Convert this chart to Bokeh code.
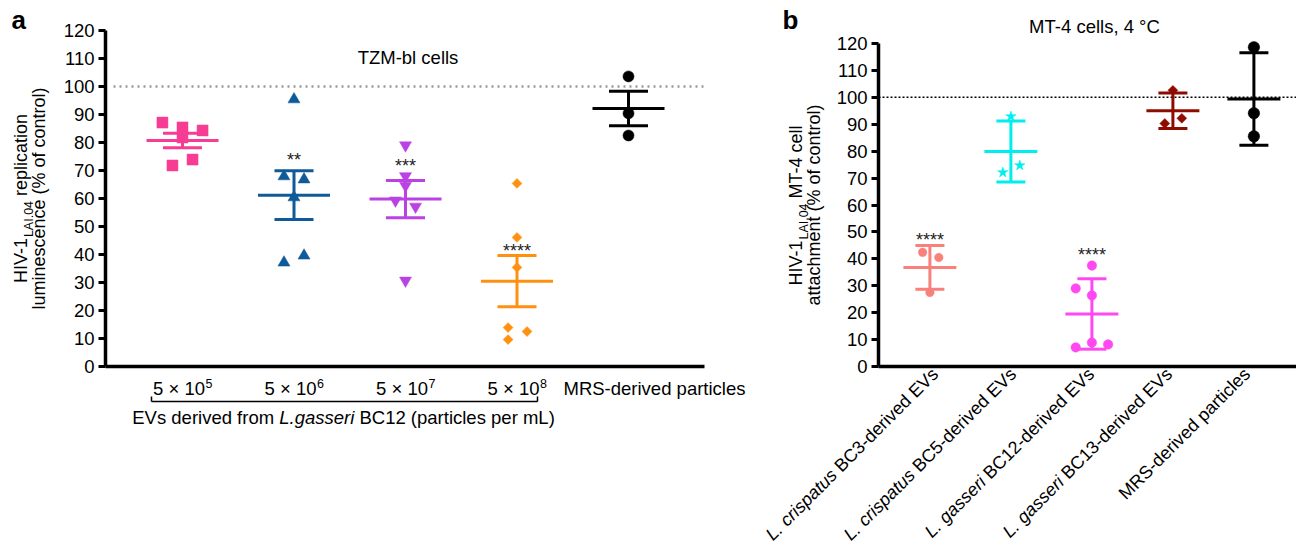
import numpy as np
from bokeh.plotting import figure
from bokeh.models import Label, FixedTicker, Range1d, Arrow
from bokeh.core.properties import value
from bokeh.layouts import row
from bokeh.embed import file_html
from bokeh.resources import INLINE

FONT = "Liberation Sans"

# ---------------- data: panel a (TZM-bl cells, mean +/- SEM) ----------------
a_tick_base = ["5 \u00d7 10", "5 \u00d7 10", "5 \u00d7 10", "5 \u00d7 10"]
a_tick_exp = ["5", "6", "7", "8"]
a_mrs_label = "MRS-derived particles"
a_group_label = ["EVs derived from ", "L.gasseri", " BC12 (particles per mL)"]
a_title = "TZM-bl cells"
a_5e5 = [87.1, 85.4, 84.3, 81.8, 71.8, 73.9]
a_5e6 = [95.4, 67.9, 66.8, 60.4, 37.1, 39.6]
a_5e7 = [79.0, 68.0, 64.6, 59.3, 57.1, 30.7]
a_5e8 = [65.4, 46.1, 35.4, 13.9, 12.5, 9.6]
a_mrs = [103.6, 90.4, 82.5]
a_sig = ["", "**", "***", "****", ""]
a_sig_y = [None, 74.6, 72.5, 42.1, None]   # centre of the star text

# ---------------- data: panel b (MT-4 cells, 4 C, mean +/- SD) ----------------
b_labels = [
    [("L. crispatus", True), (" BC3-derived EVs", False)],
    [("L. crispatus", True), (" BC5-derived EVs", False)],
    [("L. gasseri", True), (" BC12-derived EVs", False)],
    [("L. gasseri", True), (" BC13-derived EVs", False)],
    [("MRS-derived particles", False)],
]
b_title = "MT-4 cells, 4 \u00b0C"
b_bc3 = [42.4, 40.5, 27.5]
b_bc5 = [92.9, 72.1, 74.7]
b_bc12 = [37.5, 29.0, 26.4, 8.9, 7.1, 8.2]
b_bc13 = [102.6, 90.3, 92.2]
b_mrs = [118.6, 94.1, 85.5]
b_sig = ["****", "", "****", "", ""]
b_sig_y = [48.0, None, 42.4, None, None]

# ---------------- styles ----------------
a_jitter = [[-0.18, 0, 0.18, 0, -0.09, 0.09],
            [0, -0.09, 0.09, 0, -0.09, 0.09],
            [0, 0, 0, -0.09, 0.09, 0],
            [0, 0, 0, -0.08, 0.09, -0.08],
            [0, 0, 0]]
a_colors = ["#F73D93", "#0F5A98", "#BB42E2", "#FF9010", "#000000"]
a_markers = ["square", "triangle", "inverted_triangle", "square", "circle"]
a_sizes = [11, 12, 12, 7, 11]
a_angles = [0, 0, 0, np.pi / 4, 0]

b_jitter = [[-0.09, 0.11, 0],
            [0, -0.1, 0.11],
            [0, -0.2, 0, 0, -0.2, 0.2],
            [0, -0.1, 0.11],
            [0, 0, 0]]
b_colors = ["#F8817B", "#00EEEE", "#FF48F2", "#8E0B00", "#000000"]
b_markers = ["circle", "star", "circle", "square", "circle"]
b_sizes = [8.5, 11, 9.5, 7, 11.5]
b_angles = [0, 0, 0, np.pi / 4, 0]

# Helvetica / Arial advance widths (1/1000 em)
W = {' ': 278, '(': 333, ')': 333, '*': 389, ',': 278, '-': 333, '.': 278, '%': 889,
     'A': 667, 'B': 667, 'C': 722, 'D': 722, 'E': 667, 'F': 611, 'G': 778, 'H': 722, 'I': 278,
     'L': 556, 'M': 833, 'R': 722, 'S': 667, 'T': 611, 'V': 667, 'Z': 611,
     'a': 556, 'b': 556, 'c': 500, 'd': 556, 'e': 556, 'f': 278, 'g': 556, 'h': 556, 'i': 222,
     'l': 222, 'm': 833, 'n': 556, 'o': 556, 'p': 556, 'r': 333, 's': 500, 't': 278, 'u': 556,
     'v': 500, 'x': 500, 'y': 500, '\u00d7': 584, '\u00b0': 400}
for d in "0123456789":
    W[d] = 556
BASE_SHIFT = 0.35   # rendered baseline sits this many em below the label anchor


def tw(s, size):
    return sum(W.get(c, 556) for c in s) * size / 1000.0


# ---------------- geometry (pixel layout) ----------------
H = 549
A_WID, B_WID = 750, 546
A_FL, A_FR, A_FB = 105, 704, 366
A_C0, A_STEP = 182.0, 111.5
A_PPU = (366 - 30) / 120.0
B_OFF = A_WID
B_FL, B_FR, B_FB = 878, 1296, 366
B_C0, B_STEP = 929.4, 81.0
B_PPU = (366 - 43) / 120.0


def a_conv(px, py):
    return (px - A_C0) / A_STEP, (A_FB - py) / A_PPU


def b_conv(px, py):
    return (px - B_C0) / B_STEP, (B_FB - py) / B_PPU


def add_label(p, conv, px, py, text, size=18, style="normal", align="left",
              angle=0.0, color="black"):
    """(px, py): baseline point (left, centre or right end) in page pixels."""
    ca, sa = np.cos(angle), np.sin(angle)
    if align == "left":
        n = len(text) - len(text.lstrip())
        adv = tw(" " * n, size)
        px, py = px + adv * ca, py - adv * sa
    elif align == "right":
        n = len(text) - len(text.rstrip())
        adv = tw(" " * n, size)
        px, py = px - adv * ca, py + adv * sa
    sh = BASE_SHIFT * size
    px, py = px - sh * sa, py - sh * ca
    x, y = conv(px, py)
    p.add_layout(Label(x=x, y=y, text=text.strip(), text_font=FONT,
                       text_font_size=f"{size}px", text_font_style=style,
                       text_align=align, text_baseline="alphabetic",
                       angle=angle, text_color=color))


def make_fig(width, conv, x_left_px, x_right_px, x_axis_l, x_axis_r, y_axis_px):
    x0, y0 = conv(x_left_px, H)
    x1, y1 = conv(x_right_px, 0)
    p = figure(width=width, height=H, output_backend="svg", toolbar_location=None,
               title=None, x_range=Range1d(x0, x1), y_range=Range1d(y0, y1),
               min_border=0)
    p.min_border_left = 0
    p.min_border_right = 0
    p.min_border_top = 0
    p.min_border_bottom = 0
    p.xgrid.visible = False
    p.ygrid.visible = False
    p.outline_line_color = None
    p.background_fill_color = "white"
    p.border_fill_color = "white"
    ya = p.yaxis[0]
    ya.fixed_location = conv(y_axis_px, 0)[0]
    ya.ticker = FixedTicker(ticks=list(range(0, 121, 10)))
    ya.bounds = (0, 120)
    ya.minor_tick_line_color = None
    ya.major_tick_in = 0
    ya.major_tick_out = 7
    ya.major_tick_line_width = 3
    ya.axis_line_width = 3.5
    ya.major_label_text_font = FONT
    ya.major_label_text_font_size = "18.5px"
    ya.major_label_text_color = "black"
    ya.major_label_standoff = 4
    xa = p.xaxis[0]
    xa.fixed_location = 0
    xa.ticker = FixedTicker(ticks=[])
    xa.bounds = (conv(x_axis_l, 0)[0], conv(x_axis_r, 0)[0])
    xa.minor_tick_line_color = None
    xa.major_tick_line_color = None
    xa.axis_line_width = 3.5
    return p


def draw_group(p, i, vals, jit, color, marker, size, angle, err, half_mean, half_cap, lw):
    vals = np.asarray(vals, dtype=float)
    m = vals.mean()
    sd = vals.std(ddof=1)
    e = sd / np.sqrt(len(vals)) if err == "sem" else sd
    xs = i + np.asarray(jit)
    p.scatter(xs, vals, marker=marker, size=size, angle=angle, fill_color=color,
              line_color=color, line_width=0.5)
    p.segment(x0=[i - half_mean, i - half_cap, i - half_cap, i],
              x1=[i + half_mean, i + half_cap, i + half_cap, i],
              y0=[m, m + e, m - e, m - e], y1=[m, m + e, m - e, m + e],
              line_color=color, line_width=lw)


def draw_stars(p, labels, ys, ppu):
    idx = [i for i, s in enumerate(labels) if s]
    # the asterisks are drawn ~2.5 px above the anchor
    p.text(x=idx, y=[ys[i] - 2.5 / ppu for i in idx], text=[labels[i] for i in idx],
           text_font=value(FONT), text_font_size="18px", text_align="center",
           text_baseline="alphabetic", text_color="#222222")


# ================= panel a =================
pa = make_fig(A_WID, a_conv, 0, A_WID, A_FL, A_FR, A_FL)

xd0, _ = a_conv(113, 0)
xd1, _ = a_conv(703, 0)
pa.segment(x0=[xd0], x1=[xd1], y0=[100], y1=[100], line_color="#9A9A9A",
           line_width=2.5, line_dash="2 4")

a_data = [a_5e5, a_5e6, a_5e7, a_5e8, a_mrs]
for i, vals in enumerate(a_data):
    draw_group(pa, i, vals, a_jitter[i], a_colors[i], a_markers[i], a_sizes[i],
               a_angles[i], "sem", 0.323, 0.175, 3)
draw_stars(pa, a_sig, a_sig_y, A_PPU)

# x tick labels with superscripts
for i, (base, ex) in enumerate(zip(a_tick_base, a_tick_exp)):
    cx = A_C0 + A_STEP * i
    wb, we = tw(base, 18.5), tw(ex, 12.5)
    left = cx - (wb + we) / 2
    add_label(pa, a_conv, left, 394, base, 18.5)
    add_label(pa, a_conv, left + wb + 0.5, 387, ex, 12.5)
add_label(pa, a_conv, 563, 394, a_mrs_label, 18.5)

# bracket
for (x0, y0, x1, y1) in [(151, 401, 537, 401), (151, 401, 151, 396), (537, 401, 537, 396)]:
    xa_, ya_ = a_conv(x0, y0)
    xb_, yb_ = a_conv(x1, y1)
    pa.add_layout(Arrow(x_start=xa_, y_start=ya_, x_end=xb_, y_end=yb_, end=None,
                        line_color="black", line_width=1.5))

# group label (mixed italic)
widths = [tw(s, 18.5) for s in a_group_label]
left = 343 - sum(widths) / 2
for s, w, it in zip(a_group_label, widths, [False, True, False]):
    add_label(pa, a_conv, left, 423, s, 18.5, style="italic" if it else "normal")
    left += w

# y-axis label (two lines, rotated, with subscript)
l1 = ["HIV-1", "LAI.04", " replication"]
w1 = [tw(l1[0], 18), tw(l1[1], 12.5), tw(l1[2], 18)]
cy = (30 + 366) / 2
ystart = cy + sum(w1) / 2
add_label(pa, a_conv, 27, ystart, l1[0], 18, angle=np.pi / 2)
add_label(pa, a_conv, 33, ystart - w1[0], l1[1], 12.5, angle=np.pi / 2)
add_label(pa, a_conv, 27, ystart - w1[0] - w1[1], l1[2], 18, angle=np.pi / 2)
add_label(pa, a_conv, 45, cy, "luminescence (% of control)", 18,
          align="center", angle=np.pi / 2)

add_label(pa, a_conv, 407.5, 63, a_title, 18.5, align="center")
add_label(pa, a_conv, 11, 29, "a", 26, style="bold")

# ================= panel b =================
pb = make_fig(B_WID, b_conv, B_OFF, B_OFF + B_WID, B_FL, B_FR, B_FL)

xd0, _ = b_conv(878, 0)
xd1, _ = b_conv(1296, 0)
pb.segment(x0=[xd0], x1=[xd1], y0=[100], y1=[100], line_color="black",
           line_width=1.5, line_dash="2 2")

b_data = [b_bc3, b_bc5, b_bc12, b_bc13, b_mrs]
for i, vals in enumerate(b_data):
    draw_group(pb, i, vals, b_jitter[i], b_colors[i], b_markers[i], b_sizes[i],
               b_angles[i], "sd", 0.327, 0.179, 3)
draw_stars(pb, b_sig, b_sig_y, B_PPU)

# rotated x labels with italic species names (baseline ends near the axis)
c45 = np.cos(np.pi / 4)
for i, parts in enumerate(b_labels):
    gx = 939 + 78 * i
    gy = 375
    cum = 0.0
    for s, it in reversed(parts):
        add_label(pb, b_conv, gx - cum * c45, gy + cum * c45, s, 18,
                  style="italic" if it else "normal", align="right", angle=np.pi / 4)
        cum += tw(s, 18)

l1 = ["HIV-1", "LAI.04", " MT-4 cell"]
w1 = [tw(l1[0], 18), tw(l1[1], 12.5), tw(l1[2], 18)]
cy = (43 + 366) / 2
ystart = cy + sum(w1) / 2
add_label(pb, b_conv, 802, ystart, l1[0], 18, angle=np.pi / 2)
add_label(pb, b_conv, 808, ystart - w1[0], l1[1], 12.5, angle=np.pi / 2)
add_label(pb, b_conv, 802, ystart - w1[0] - w1[1], l1[2], 18, angle=np.pi / 2)
add_label(pb, b_conv, 820, cy, "attachment (% of control)", 18, align="center",
          angle=np.pi / 2)

add_label(pb, b_conv, 1094, 32, b_title, 18.5, align="center")
add_label(pb, b_conv, 782, 29, "b", 26, style="bold")

layout = row(pa, pb)
open("out.html", "w").write(file_html(layout, INLINE))
